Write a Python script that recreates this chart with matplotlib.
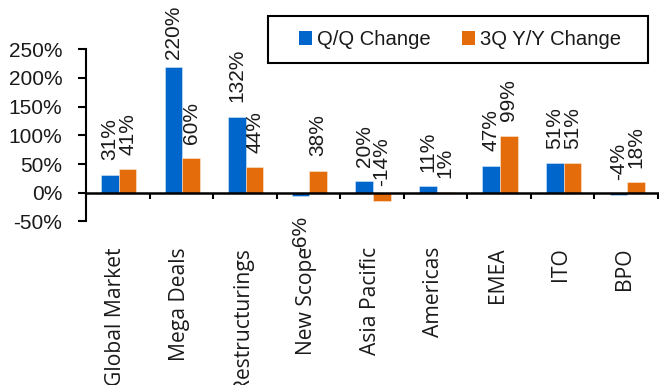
import matplotlib
matplotlib.use("Agg")
import matplotlib.pyplot as plt
import matplotlib.transforms as mtransforms
from matplotlib.patches import Rectangle, Patch
import numpy as np

categories = ["Global Market", "Mega Deals", "Restructurings", "New Scope",
              "Asia Pacific", "Americas", "EMEA", "ITO", "BPO"]
qq_change = [31, 220, 132, -6, 20, 11, 47, 51, -4]
yy_change = [41, 60, 44, 38, -14, 1, 99, 51, 18]
series_names = ["Q/Q Change", "3Q Y/Y Change"]
y_ticks = [-50, 0, 50, 100, 150, 200, 250]

BLUE = "#0066CC"
ORANGE = "#E46C0A"
TEXT = "#1a1a1a"
NUM_FONT = "Liberation Sans"
CAT_FONT = "Open Sans"

fig = plt.figure(figsize=(6.59, 3.85), dpi=100)
ax = fig.add_axes([86 / 659, 1 - 221.4 / 385, 572 / 659, (221.4 - 49.3) / 385])

x = np.arange(len(categories))
w = 0.277
bars_q = ax.bar(x - w / 2 + 0.015, np.array(qq_change) / 100, w, color=BLUE,
                edgecolor=(1, 1, 1, 0.45), linewidth=0.6, zorder=2)
bars_y = ax.bar(x + w / 2 + 0.015, np.array(yy_change) / 100, w, color=ORANGE,
                edgecolor=(1, 1, 1, 0.45), linewidth=0.6, zorder=2)

ax.set_xlim(-0.5, len(categories) - 0.5)
ax.set_ylim(-0.5, 2.5)

# value labels, rotated, sitting above the end of each bar
label_cap = 2.325
below = {("qq", "New Scope")}
for key, bars, vals in (("qq", bars_q, qq_change), ("yy", bars_y, yy_change)):
    for b, v, cat in zip(bars, vals, categories):
        xc = b.get_x() + b.get_width() / 2
        if (key, cat) in below:
            ax.annotate(f"{v}%", (xc, v / 100), xytext=(0, -14),
                        textcoords="offset points", rotation=90,
                        ha="center", va="top", fontsize=15,
                        family=NUM_FONT, color=TEXT, zorder=3)
        else:
            y = v / 100
            off = 10.5
            if y + 0.245 > label_cap:
                y, off = label_cap, 0
            ax.annotate(f"{v}%", (xc, y), xytext=(0, off),
                        textcoords="offset points", rotation=90,
                        ha="center", va="bottom", fontsize=15,
                        family=NUM_FONT, color=TEXT, zorder=3)

# axes styling
for s in ("top", "right"):
    ax.spines[s].set_visible(False)
ax.spines["left"].set_linewidth(1.5)
ax.spines["bottom"].set_linewidth(1.8)
ax.spines["bottom"].set_position(("data", 0))
ax.spines["bottom"].set_zorder(4)

ax.set_yticks(np.array(y_ticks) / 100)
ax.set_yticklabels([f"{t}%" for t in y_ticks], family=NUM_FONT,
                   fontsize=15, color=TEXT)
ax.tick_params(axis="y", direction="out", length=6, width=1.5, pad=11)

ax.set_xticks(np.arange(len(categories) + 1) - 0.5)
ax.set_xticklabels([])
ax.tick_params(axis="x", direction="out", length=4.3, width=1.5)

# category names below the plot area
trans = mtransforms.blended_transform_factory(ax.transData, fig.transFigure)
for xi, cat in zip(x, categories):
    ax.text(xi - 0.03, 1 - 247 / 385, cat, transform=trans, rotation=90,
            ha="center", va="top", fontsize=15.2, family=CAT_FONT,
            color=TEXT, clip_on=False)

# legend with its own frame
fig.patches.append(Rectangle((268 / 659, 1 - 63 / 385), 380 / 659, 47 / 385,
                             transform=fig.transFigure, fill=False,
                             edgecolor="black", linewidth=1.5))
handles = [Patch(facecolor=BLUE), Patch(facecolor=ORANGE)]
fig.legend(handles, series_names, loc="center left",
           bbox_to_anchor=(283 / 659, 1 - 39.5 / 385), ncol=2, frameon=False,
           prop={"family": NUM_FONT, "size": 14.6}, handlelength=0.65,
           handleheight=0.65, handletextpad=0.25, columnspacing=1.5,
           borderpad=0.3, labelcolor=TEXT)

fig.savefig("out.png", dpi=100)
